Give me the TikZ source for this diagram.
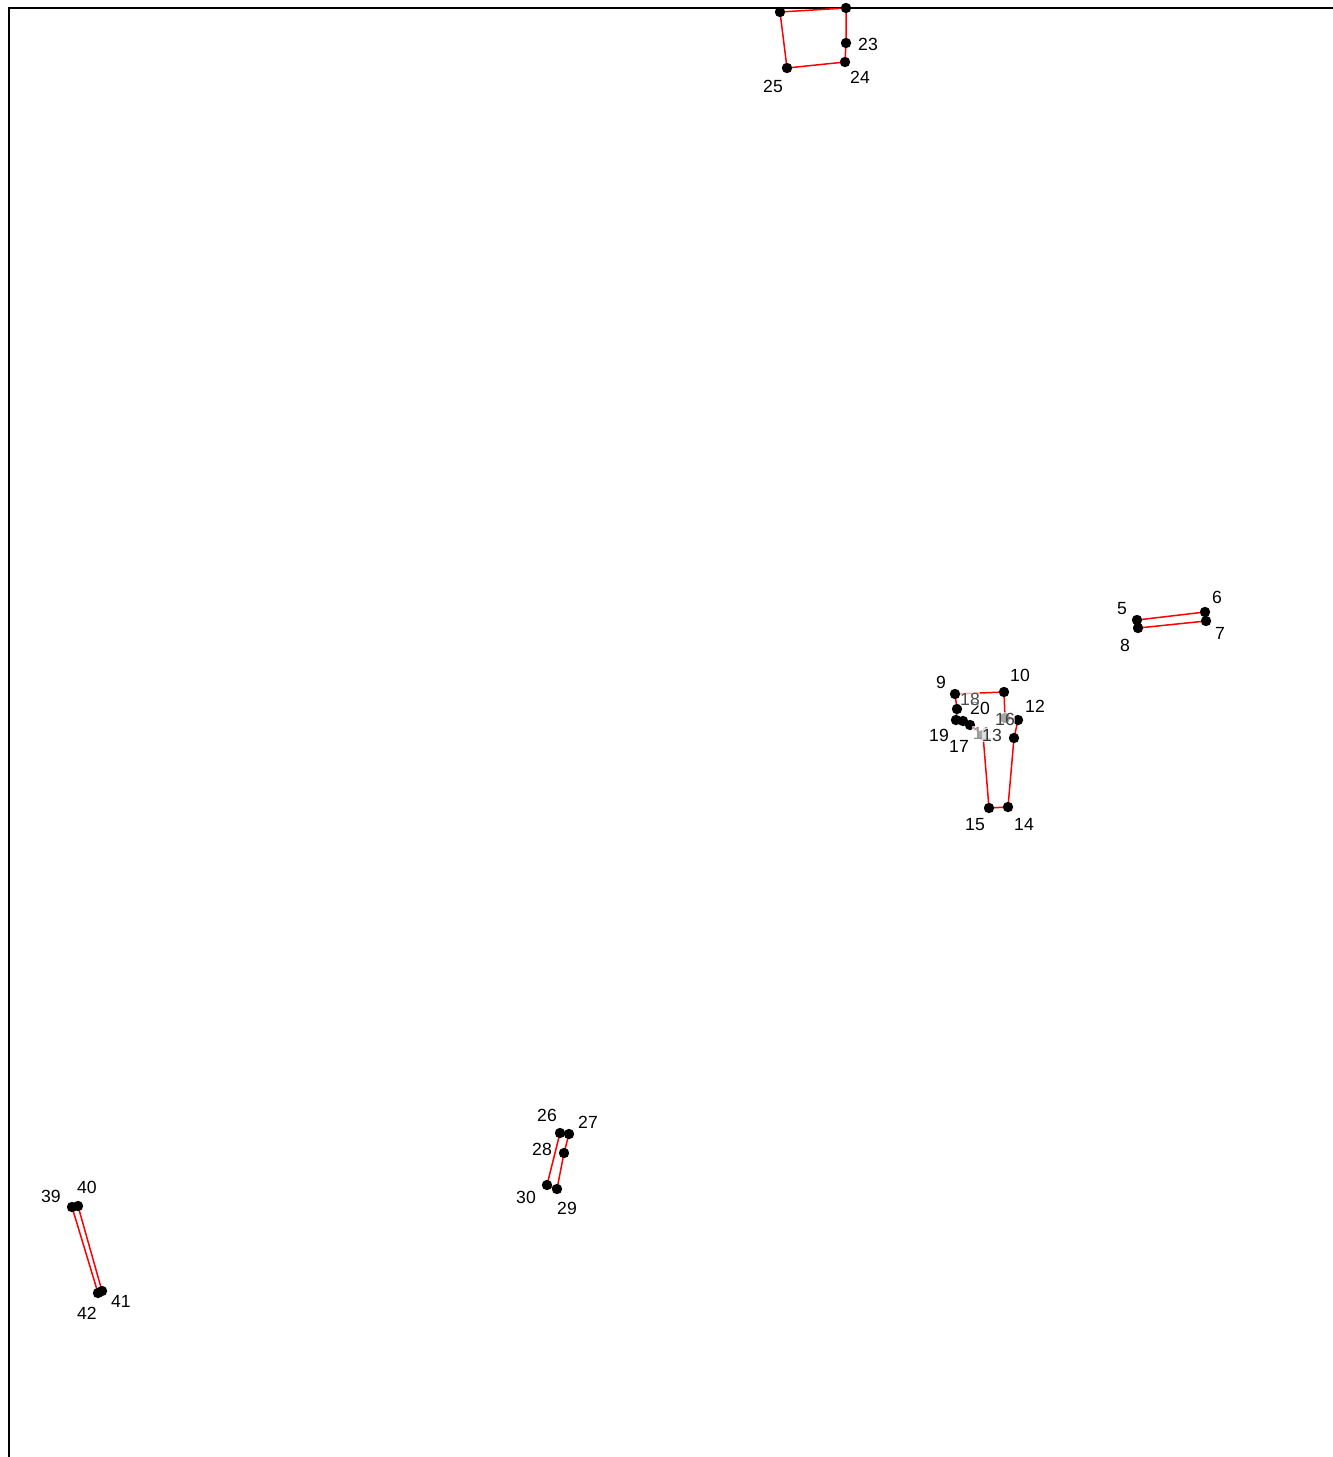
\documentclass[tikz,border=0pt]{standalone}
\usepackage{fontspec}
\setmainfont{Liberation Sans}
\begin{document}
\begin{tikzpicture}[x=0.5pt,y=-0.5pt,dot/.style={circle,fill=black,inner sep=0pt,minimum size=5.2pt},edge/.style={draw=red,line width=0.75pt},lbl/.style={font=\fontsize{8.8}{10}\selectfont,inner sep=0pt},halo/.style={fill=white,fill opacity=0.65,text opacity=1,inner sep=0.3pt},frame/.style={draw=black,line width=1pt}]
\useasboundingbox (0,0) rectangle (1333,1457);
\draw[frame] (1333,7.5) -- (8.5,7.5) -- (8.5,1457);
% vertices
\foreach \n/\x/\y in {5/1137/620,6/1205/612,7/1206/621,8/1138/628,9/955/694,10/1004/692,11/1005/718,12/1018/720,13/1014/738,14/1008/807,15/989/808,16/983/735,17/970/725,18/963/721,19/956/720,20/957/709,21/780/12,22/846/8,23/846/43,24/845/62,25/787/68,26/560/1133,27/569/1134,28/564/1153,29/557/1189,30/547/1185,39/72/1207,40/78/1206,41/102/1291,42/98/1293}
  \coordinate (p\n) at (\x,\y);
% outlines
\draw[edge] (p5)--(p6)--(p7)--(p8)--cycle;
\draw[edge] (p9)--(p10)--(p11)--(p12)--(p13)--(p14)--(p15)--(p16)--(p17)--(p18)--(p19)--(p20)--cycle;
\draw[edge] (p21)--(p22)--(p23)--(p24)--(p25)--cycle;
\draw[edge] (p26)--(p27)--(p28)--(p29)--(p30)--cycle;
\draw[edge] (p39)--(p40)--(p41)--(p42)--cycle;
\foreach \n in {5,6,7,8,9,10,11,12,13,14,15,16,17,18,19,20,21,22,23,24,25,26,27,28,29,30,39,40,41,42}
  \node[dot] (d\n) at (p\n) {};
% labels
\foreach \n/\x/\y in {5/1122/609,6/1217/597,7/1220/633,8/1125/645,9/941/682,10/1020/675,12/1035/706,14/1024/824,15/975/825,17/959/746,19/939/735,20/980/708,23/868/44,24/860/77,25/773/86,26/547/1115,27/588/1122,28/542/1149,29/567/1208,30/526/1197,39/51/1196,40/87/1187,41/121/1301,42/87/1313}
  \node[lbl] (l\n) at (\x,\y) {\n};
\node[lbl,halo,text=black!45] (l11) at (982,733) {11};
\node[lbl,halo,text=black!80] (l13) at (992,735) {13};
\node[lbl,halo,text=black!75] (l16) at (1005,719) {16};
\node[lbl,halo,text=black!70] (l18) at (970,699) {18};
\end{tikzpicture}
\end{document}
